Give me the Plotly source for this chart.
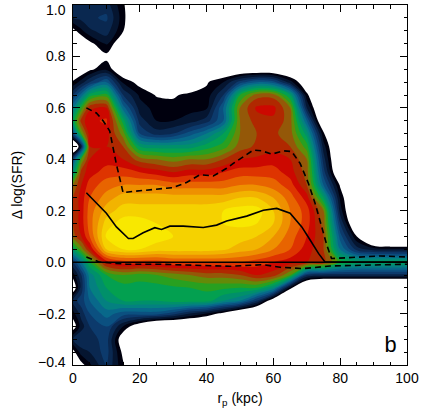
"""Density of Delta log(SFR) against projected separation, panel b."""

import plotly.graph_objects as go

# ---------------------------------------------------------------------------
# Density grid (colour level, <1 = outside / white)
# ---------------------------------------------------------------------------
GRID_X = [0, 2.5, 5, 10, 15, 20, 25, 30, 35, 40, 45, 50, 55, 60, 65, 70, 75, 80, 85, 90, 95, 100]
GRID_Y = [1.00, 0.95, 0.90, 0.85, 0.80, 0.75, 0.70, 0.65, 0.60, 0.55, 0.50, 0.45, 0.40, 0.35, 0.30,
          0.25, 0.20, 0.15, 0.10, 0.05, 0.00, -0.05, -0.10, -0.15, -0.20, -0.25, -0.30, -0.35, -0.40]

# one row per GRID_Y value (top to bottom), one column per GRID_X value
DENSITY = [
    # x: 0    2.5   5    10   15   20   25   30   35   40   45   50   55   60   65   70   75   80   85   90   95   100
    [3.0, 3.2, 3.5, 3.5, 1.2, -1, -1.5, -1.5, -1.5, -1.5, -1.5, -1.5, -1.5, -1.5, -1.5, -2, -2, -2, -2, -3, -4, -4],
    [3.0, 3.3, 3.8, 4.2, 1.4, -1.5, -1.5, -1.5, -1.5, -1.5, -1.5, -1.5, -1.5, -1.5, -1.5, -2, -2, -2, -2, -3, -4, -4],
    [0.5, 1.8, 2.8, 3.5, 1.1, -1.5, -1.5, -1.5, -1.5, -1.5, -1.5, -1.5, -1.5, -1.5, -1.5, -2, -2, -2, -2, -3, -4, -4],
    [-1, -0.5, 0.6, 2.2, -0.5, -1.5, -1.5, -1.5, -1.5, -1.5, -1.5, -1.5, -1.5, -1.5, -1.5, -2, -2, -2, -2, -3, -4, -4],
    [-1, -1, -1, 0.6, -1, -1.5, -1.5, -1.5, -1.5, -1.5, -1.5, -1.5, -1.5, -1.5, -1.5, -2, -2, -2, -2, -3, -4, -4],
    [-0.5, -0.3, 0.7, 1.8, -0.5, -1, -1.5, -1.5, -1.5, -1, -1, -1, -1, -1, -1.5, -2, -2, -2, -2, -3, -4, -4],
    [1.2, 2.5, 4.0, 6.0, 1.8, 0.5, -1, -1, -1, 0.85, 2.0, 4.5, 6.0, 5.5, 2.5, -0.5, -2, -2, -2, -3, -4, -4],
    [4.0, 6.5, 9.5, 10.5, 4.0, 1.8, 0.9, 0.8, 1.4, 1.4, 4.0, 10.0, 12.5, 12.5, 9.0, 1.3, -2, -2, -2, -3, -4, -4],
    [7.0, 10.5, 13.8, 14.0, 6.5, 2.5, 1.6, 1.5, 1.6, 1.8, 6.0, 12.0, 14.2, 14.3, 12.0, 3.0, -2, -2, -2, -3, -4, -4],
    [9.0, 13.5, 14.7, 15.2, 9.5, 3.5, 2.0, 2.0, 2.5, 3.5, 6.0, 12.0, 13.5, 13.8, 12.5, 6.0, -1.5, -2, -2, -3, -4, -4],
    [5.0, 11.0, 14.5, 14.5, 11.5, 5.0, 3.5, 4.0, 5.5, 7.0, 9.0, 12.0, 13.0, 13.2, 12.5, 8.5, 1.2, -2, -2, -3, -4, -4],
    [-3, 3.0, 14.0, 14.0, 13.0, 9.0, 8.5, 8.5, 8.5, 9.5, 10.5, 12.5, 13.2, 13.5, 13.0, 10.5, 2.5, -2, -2, -3, -4, -4],
    [5.0, 11.0, 14.0, 14.5, 14.0, 12.5, 12.0, 11.5, 12.0, 12.0, 13.0, 14.0, 14.2, 14.5, 14.0, 12.0, 3.5, -2, -2, -3, -4, -4],
    [8.0, 13.5, 14.5, 15.5, 15.5, 15.0, 14.5, 14.0, 14.5, 14.5, 15.0, 15.5, 15.5, 15.5, 14.5, 12.5, 4.5, -1.5, -2, -3, -4, -4],
    [12.0, 14.0, 15.5, 16.5, 17.0, 17.0, 17.0, 16.5, 16.5, 16.5, 16.5, 17.0, 17.0, 16.5, 15.5, 13.0, 6.0, 0.8, -2, -3, -4, -4],
    [13.0, 14.5, 16.0, 17.5, 18.5, 18.5, 18.5, 18.5, 18.5, 18.5, 18.5, 19.0, 19.0, 18.0, 16.5, 14.5, 9.0, 1.8, -2, -3, -4, -4],
    [13.0, 14.5, 16.5, 18.5, 19.5, 19.5, 19.5, 19.5, 19.5, 19.5, 20.0, 20.5, 20.5, 19.0, 17.0, 15.5, 12.0, 2.5, -2, -3, -4, -4],
    [13.0, 14.5, 16.5, 19.5, 20.5, 20.5, 20.0, 20.0, 20.0, 20.0, 20.0, 20.2, 20.0, 19.0, 17.0, 15.5, 12.5, 4.0, -1.5, -3, -4, -4],
    [12.5, 14.0, 16.0, 20.2, 21.0, 21.0, 20.5, 20.0, 20.0, 20.0, 19.8, 19.5, 19.0, 18.0, 16.5, 15.0, 13.0, 5.5, 1.0, -3, -4, -4],
    [9.0, 11.5, 14.0, 19.0, 20.0, 20.0, 19.5, 19.5, 19.5, 19.5, 19.2, 18.5, 18.0, 17.0, 16.0, 14.5, 13.0, 7.0, 3.5, 2.5, 2.3, 2.3],
    [4.0, 7.0, 10.0, 14.5, 15.5, 15.5, 15.5, 16.0, 16.0, 16.0, 16.0, 16.0, 15.5, 15.0, 14.5, 14.0, 13.5, 10.5, 9.5, 9.5, 9.5, 9.5],
    [1.5, 4.0, 7.5, 10.0, 11.0, 10.5, 11.0, 11.5, 12.0, 12.5, 12.5, 13.0, 14.0, 13.5, 11.0, 4.0, 3.5, 3.5, 3.5, 3.5, 3.5, 3.5],
    [-0.3, 3.5, 7.0, 9.0, 9.5, 9.5, 9.5, 9.8, 10.0, 10.2, 10.2, 10.0, 10.0, 8.0, 1.5, -3, -5, -5, -5, -5, -5, -5],
    [3.5, 4.5, 6.0, 8.0, 9.0, 9.0, 9.0, 9.5, 9.5, 9.5, 8.0, 7.0, 4.0, -0.5, -3, -3, -5, -5, -5, -5, -5, -5],
    [1.6, 3.5, 5.0, 6.5, 5.5, 5.5, 5.5, 4.5, 3.0, 2.0, 0.5, -1.5, -3, -3, -3, -3, -5, -5, -5, -5, -5, -5],
    [0.2, 2.5, 4.0, 5.0, 2.0, -0.5, -2.5, -2.5, -2.5, -3, -3, -3, -3, -3, -3, -3, -5, -5, -5, -5, -5, -5],
    [3.0, 4.0, 3.5, 4.5, -0.3, -1.5, -3, -3, -3, -3, -3, -3, -3, -3, -3, -3, -5, -5, -5, -5, -5, -5],
    [0.5, 2.5, 3.0, 4.5, 0.6, -2, -3, -3, -3, -3, -3, -3, -3, -3, -3, -3, -5, -5, -5, -5, -5, -5],
    [-0.5, 0.5, 1.8, 4.0, 1.2, -2, -3, -3, -3, -3, -3, -3, -3, -3, -3, -3, -5, -5, -5, -5, -5, -5],
]

# colour of each level band; index 0 is the area outside the lowest contour
LEVEL_COLOURS = [
    "#ffffff",
    "#00000e", "#051530", "#0a2850", "#0c3a6c", "#0b5080", "#08688a", "#048080",
    "#00906a", "#03a050", "#28a020", "#648a08", "#945808", "#b02800", "#cc0800",
    "#de3400", "#e86400", "#ee9000", "#f2b400", "#f5d200", "#f8e800", "#fcfc30",
]

# ---------------------------------------------------------------------------
# Percentile curves
# ---------------------------------------------------------------------------
UPPER_X = [4, 7, 9, 11, 13, 15, 18, 22, 26, 30, 34, 38, 42, 46, 48, 51, 54, 56.5, 59.5, 63,
           65.5, 68, 70.5, 72.5, 74.5, 76, 77.4, 82, 87, 92, 100]
UPPER_Y = [0.60, 0.58, 0.55, 0.51, 0.38, 0.27, 0.275, 0.28, 0.285, 0.29, 0.31, 0.34, 0.335, 0.365,
           0.384, 0.41, 0.436, 0.433, 0.42, 0.433, 0.43, 0.384, 0.306, 0.228, 0.137, 0.066, 0.014,
           0.018, 0.022, 0.024, 0.02]

MEDIAN_X = [4, 7, 10, 13, 16.6, 18, 21, 24.5, 26.5, 29, 33, 39, 43, 46, 50, 52, 57, 61, 65,
            68.5, 71, 73.5, 75.5, 80, 90, 100]
MEDIAN_Y = [0.27, 0.23, 0.19, 0.137, 0.092, 0.092, 0.114, 0.134, 0.127, 0.14, 0.14, 0.135, 0.144,
            0.16, 0.172, 0.179, 0.202, 0.209, 0.19, 0.137, 0.086, 0.034, 0.0, 0.0, 0.0, 0.0]

LOWER_X = [4, 8, 16, 26, 36, 47, 57, 62, 69, 77, 87, 100]
LOWER_Y = [0.02, 0.0, -0.008, -0.008, -0.012, -0.016, -0.01, -0.02, -0.025, -0.015, -0.012, -0.008]

X_TICKS = [0, 20, 40, 60, 80, 100]
Y_TICKS = [-0.4, -0.2, 0.0, 0.2, 0.4, 0.6, 0.8, 1.0]

FONT = "Liberation Sans, Arial, sans-serif"

n_levels = len(LEVEL_COLOURS) - 1
colorscale = [[i / n_levels, c] for i, c in enumerate(LEVEL_COLOURS)]

fig = go.Figure()

fig.add_trace(
    go.Contour(
        x=GRID_X,
        y=GRID_Y[::-1],
        z=DENSITY[::-1],
        colorscale=colorscale,
        autocontour=False,
        contours=dict(start=1, end=n_levels, size=1, coloring="fill"),
        line=dict(width=0, smoothing=1.0),
        showscale=False,
        hoverinfo="skip",
    )
)

fig.add_trace(
    go.Scatter(x=UPPER_X, y=UPPER_Y, mode="lines",
               line=dict(color="black", width=1.6, dash="6px,4px"), showlegend=False)
)
fig.add_trace(
    go.Scatter(x=LOWER_X, y=LOWER_Y, mode="lines",
               line=dict(color="black", width=1.6, dash="6px,4px"), showlegend=False)
)
fig.add_trace(
    go.Scatter(x=MEDIAN_X, y=MEDIAN_Y, mode="lines",
               line=dict(color="black", width=1.6), showlegend=False)
)

fig.add_hline(y=0, line_color="black", line_width=1.5)

fig.add_annotation(
    x=0.975, y=0.012, xref="paper", yref="paper", xanchor="right", yanchor="bottom",
    text="b", showarrow=False,
    font=dict(family="Liberation Mono, Courier New, monospace", size=22, color="black"),
)

# y tick labels written next to the axis (end labels nudged inside the frame, as in the original)
for v in Y_TICKS:
    shift = -5 if v == max(Y_TICKS) else (3 if v == min(Y_TICKS) else 0)
    fig.add_annotation(
        x=0, y=v, xref="paper", yref="y", xanchor="right", yanchor="middle",
        xshift=-5, yshift=shift, showarrow=False,
        text=f"{v:.1f}".replace("-", "\u2212"),
        font=dict(family=FONT, size=14, color="black"),
    )

axis_common = dict(
    showline=True, linecolor="black", linewidth=1, mirror="ticks",
    ticks="inside", ticklen=7, tickwidth=1, tickcolor="black",
    showgrid=False, zeroline=False, automargin=False,
    tickfont=dict(family=FONT, size=14, color="black"),
)

fig.update_layout(
    width=423,
    height=414,
    margin=dict(l=73, r=16, t=5, b=49),
    paper_bgcolor="white",
    plot_bgcolor="white",
    showlegend=False,
    font=dict(family=FONT, size=14, color="black"),
    xaxis=dict(
        range=[0, 100], tickvals=X_TICKS, ticktext=[str(v) for v in X_TICKS],
        minor=dict(dtick=5, tick0=0, ticks="inside", ticklen=3.5, tickcolor="black"),
        title=dict(text="r<sub>p</sub> (kpc)", font=dict(family=FONT, size=14), standoff=8),
        **axis_common,
    ),
    yaxis=dict(
        range=[-0.4, 1.0], tickvals=Y_TICKS, showticklabels=False,
        minor=dict(dtick=0.05, tick0=0, ticks="inside", ticklen=3.5, tickcolor="black"),
        title=dict(text="Δ log(SFR)", font=dict(family=FONT, size=14), standoff=46),
        **axis_common,
    ),
)

# the page body has a default 8px margin; drop it so the figure sits at the corner
fig.write_html(
    "out.html",
    config={"displayModeBar": False},
    post_script="document.body.style.margin='0';",
)
